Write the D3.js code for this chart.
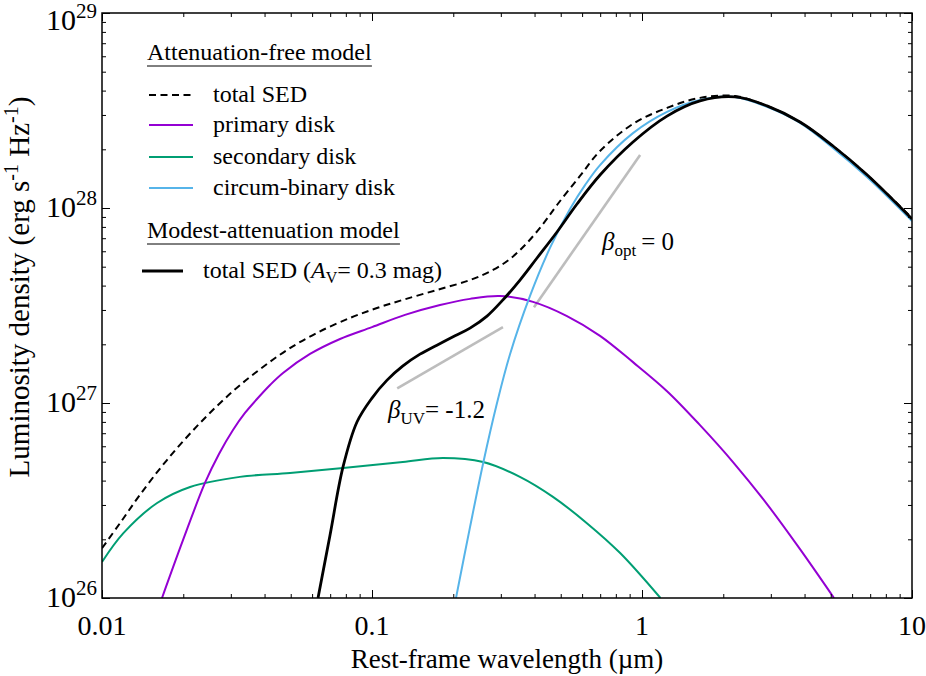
<!DOCTYPE html>
<html>
<head>
<meta charset="utf-8">
<script src="https://cdnjs.cloudflare.com/ajax/libs/d3/7.8.5/d3.min.js"></script>
<style>
  body { margin: 0; background: #fff; }
</style>
</head>
<body>
<script>
// SED of a binary disk system: attenuation-free components + attenuated total

var xTicks = [0.01, 0.1, 1, 10];
var xTickLabels = ["0.01", "0.1", "1", "10"];
var yTicks = [1e26, 1e27, 1e28, 1e29];
var yTickExps = ["26", "27", "28", "29"];

// attenuation-free total SED (dashed)
var totalLam = [0.01, 0.01166, 0.01382, 0.0174, 0.02307, 0.03056, 0.03848, 0.04844, 0.06256, 0.0829, 0.1043,
  0.1302, 0.174, 0.2307, 0.2806, 0.3245, 0.375, 0.4299, 0.4844, 0.5894, 0.6991, 0.9261, 1.238, 1.64, 2.21,
  2.904, 3.848, 5.098, 6.813, 10];
var totalL = [1.80e26, 2.42e26, 3.38e26, 5.10e26, 7.90e26, 1.15e27, 1.49e27, 1.87e27, 2.29e27, 2.73e27, 3.07e27,
  3.38e27, 3.80e27, 4.27e27, 4.81e27, 5.48e27, 6.62e27, 8.28e27, 1.036e28, 1.46e28, 1.96e28, 2.70e28, 3.26e28, 3.67e28, 3.75e28,
  3.34e28, 2.76e28, 2.08e28, 1.48e28, 8.88e27];

// primary disk
var primaryLam = [0.01668, 0.01995, 0.02406, 0.02712, 0.03056, 0.03385, 0.0375, 0.04192, 0.04682, 0.05894, 0.07613, 0.1,
  0.1325, 0.1786, 0.2307, 0.2979, 0.3948, 0.5275, 0.6991, 0.9261, 1.238, 1.64, 2.173, 2.904, 3.848, 5.142];
var primaryL = [1.0e26, 1.98e26, 3.89e26, 5.48e26, 7.27e26, 8.89e26, 1.048e27, 1.237e27, 1.425e27, 1.784e27, 2.13e27, 2.45e27,
  2.83e27, 3.18e27, 3.42e27, 3.54e27, 3.30e27, 2.79e27, 2.21e27, 1.62e27, 1.15e27, 7.7e26, 4.98e26, 3.03e26, 1.78e26, 1.0e26];

// secondary disk
var secondaryLam = [0.01, 0.012, 0.016, 0.0212, 0.0324, 0.0497, 0.0782, 0.13, 0.183, 0.258, 0.353, 0.468, 0.625, 0.83, 1.17];
var secondaryL = [1.53e26, 2.15e26, 3.07e26, 3.71e26, 4.18e26, 4.38e26, 4.64e26, 4.98e26, 5.22e26, 4.98e26, 4.18e26, 3.30e26, 2.42e26, 1.70e26, 1.0e26];

// circum-binary disk
var cbdLam = [0.2047, 0.2307, 0.2577, 0.2904, 0.3245, 0.3848, 0.4562, 0.5412, 0.6151, 0.6991, 0.9261, 1.238, 1.64,
  2.21, 2.904, 3.848, 5.098, 6.813, 10];
var cbdL = [1.0e26, 2.31e26, 4.87e26, 1.0e27, 1.78e27, 3.54e27, 6.24e27, 9.88e27, 1.31e28, 1.66e28, 2.42e28, 3.11e28, 3.58e28,
  3.71e28, 3.30e28, 2.73e28, 2.03e28, 1.44e28, 8.58e27];

// modest-attenuation total SED (A_V = 0.3 mag)
var attenLam = [0.0631, 0.0699, 0.0781, 0.08798, 0.1, 0.1137, 0.1302, 0.1506, 0.174, 0.203, 0.2307, 0.2667, 0.3056,
  0.3533, 0.4085, 0.4844, 0.5745, 0.6991, 0.9261, 1.238, 1.64, 2.21, 2.904, 3.848, 5.098, 6.813, 10];
var attenL = [1.0e26, 2.10e26, 4.70e26, 7.99e26, 1.06e27, 1.31e27, 1.55e27, 1.78e27, 1.98e27, 2.21e27, 2.42e27, 2.79e27, 3.38e27,
  4.27e27, 5.54e27, 7.53e27, 1.048e28, 1.476e28, 2.18e28, 2.96e28, 3.54e28, 3.71e28, 3.34e28, 2.76e28, 2.08e28, 1.48e28, 8.78e27];

// slope guides
var betaUvLam = [0.124, 0.3055];
var betaUvL = [1.19e27, 2.45e27];
var betaOptLam = [0.398, 0.984];
var betaOptL = [3.10e27, 1.87e28];

var FONT = "Liberation Serif";

var width = 926;
var height = 676;
var margin = {top: 13, right: 14, bottom: 78, left: 102};

var svg = d3.select("body")
  .append("svg")
  .attr("width", width)
  .attr("height", height)
  .attr("font-family", FONT);

var w = width - margin.left - margin.right;
var h = height - margin.top - margin.bottom;

var g = svg.append("g")
  .attr("transform", "translate(" + margin.left + "," + margin.top + ")");

var x = d3.scaleLog().domain([0.01, 10]).range([0, w]);
var y = d3.scaleLog().domain([1e26, 1e29]).range([h, 0]);

g.append("clipPath").attr("id", "clip")
  .append("rect").attr("width", w).attr("height", h);

function pairs(a, b) {
  return a.map(function(v, i) { return [v, b[i]]; });
}

var line = d3.line()
  .x(function(d) { return x(d[0]); })
  .y(function(d) { return y(d[1]); })
  .curve(d3.curveCatmullRom.alpha(0.5));

var straight = d3.line()
  .x(function(d) { return x(d[0]); })
  .y(function(d) { return y(d[1]); });

var curves = g.append("g").attr("clip-path", "url(#clip)");

// grey guide lines
[[betaUvLam, betaUvL], [betaOptLam, betaOptL]].forEach(function(b) {
  curves.append("path")
    .datum(pairs(b[0], b[1]))
    .attr("d", straight)
    .attr("fill", "none")
    .attr("stroke", "#bdbdbd")
    .attr("stroke-width", 2.6);
});

var series = [
  {lam: secondaryLam, L: secondaryL, col: "#009e73", w: 2, dash: null},
  {lam: primaryLam, L: primaryL, col: "#9400d3", w: 2, dash: null},
  {lam: cbdLam, L: cbdL, col: "#56b4e9", w: 2, dash: null},
  {lam: totalLam, L: totalL, col: "#000", w: 2, dash: "7,4.5"},
  {lam: attenLam, L: attenL, col: "#000", w: 2.8, dash: null}
];

series.forEach(function(s) {
  curves.append("path")
    .datum(pairs(s.lam, s.L))
    .attr("d", line)
    .attr("fill", "none")
    .attr("stroke", s.col)
    .attr("stroke-width", s.w)
    .attr("stroke-dasharray", s.dash)
    .attr("stroke-linejoin", "round");
});

// axes: inward ticks on all four sides
function isMajor(v) {
  var l = Math.log10(v);
  return Math.abs(l - Math.round(l)) < 1e-6;
}
var xMinor = x.ticks().filter(function(v) { return !isMajor(v); });
var yMinor = y.ticks().filter(function(v) { return !isMajor(v); });

function tickAxis(axis, vals, len, tr) {
  var a = g.append("g")
    .attr("transform", tr)
    .call(axis.tickValues(vals).tickSize(-len).tickFormat(""));
  a.select(".domain").remove();
  a.selectAll("line").attr("stroke", "#000").attr("stroke-width", 1);
}

[[xMinor, 4], [xTicks, 8]].forEach(function(t) {
  tickAxis(d3.axisBottom(x), t[0], t[1], "translate(0," + h + ")");
  tickAxis(d3.axisTop(x), t[0], t[1], "translate(0,0)");
});
[[yMinor, 4], [yTicks, 8]].forEach(function(t) {
  tickAxis(d3.axisLeft(y), t[0], t[1], "translate(0,0)");
  tickAxis(d3.axisRight(y), t[0], t[1], "translate(" + w + ",0)");
});

g.append("rect")
  .attr("width", w)
  .attr("height", h)
  .attr("fill", "none")
  .attr("stroke", "#000")
  .attr("stroke-width", 1.5);

// tick labels
xTicks.forEach(function(v, i) {
  g.append("text")
    .attr("x", x(v))
    .attr("y", h + 37)
    .attr("text-anchor", "middle")
    .style("font-size", "28px")
    .text(xTickLabels[i]);
});

yTicks.forEach(function(v, i) {
  var t = g.append("text")
    .attr("x", -5)
    .attr("y", Math.max(y(v) + 9, 17))
    .attr("text-anchor", "end")
    .style("font-size", "30px");
  t.append("tspan").text("10");
  t.append("tspan").attr("dy", -12).style("font-size", "21px").text(yTickExps[i]);
});

// axis titles
g.append("text")
  .attr("x", w / 2)
  .attr("y", h + 70)
  .attr("text-anchor", "middle")
  .style("font-size", "27px")
  .text("Rest-frame wavelength (\u00b5m)");

var yl = svg.append("text")
  .attr("transform", "translate(29,287) rotate(-90)")
  .attr("text-anchor", "middle")
  .style("font-size", "29px");
yl.append("tspan").text("Luminosity density (erg s");
yl.append("tspan").attr("dy", -11).style("font-size", "20px").text("-1");
yl.append("tspan").attr("dy", 11).text(" Hz");
yl.append("tspan").attr("dy", -11).style("font-size", "20px").text("-1");
yl.append("tspan").attr("dy", 11).text(")");

// slope annotations
var bu = g.append("text")
  .attr("x", x(0.1146))
  .attr("y", y(8.4e26))
  .style("font-size", "25px");
bu.append("tspan").style("font-style", "italic").text("\u03b2");
bu.append("tspan").attr("dy", 6).style("font-size", "17px").text("UV");
bu.append("tspan").attr("dy", -6).text("= -1.2");

var bo = g.append("text")
  .attr("x", x(0.711))
  .attr("y", y(6.1e27))
  .style("font-size", "25px");
bo.append("tspan").style("font-style", "italic").text("\u03b2");
bo.append("tspan").attr("dy", 6).style("font-size", "17px").text("opt");
bo.append("tspan").attr("dy", -6).text("\u2009= 0");

// legend
var leg = svg.append("g");

function title(txt, yb) {
  var t = leg.append("text")
    .attr("x", 147)
    .attr("y", yb)
    .attr("font-family", FONT)
    .style("font-size", "24px")
    .text(txt);
  var bb = t.node().getBBox();
  leg.append("line")
    .attr("x1", 147).attr("x2", 147 + bb.width)
    .attr("y1", yb + 6).attr("y2", yb + 6)
    .attr("stroke", "#000").attr("stroke-width", 1);
}

title("Attenuation-free model", 60);
title("Modest-attenuation model", 238);

var entries = [
  {label: "total SED", col: "#000", w: 2, dash: "7,4.5", y: 95},
  {label: "primary disk", col: "#9400d3", w: 2, dash: null, y: 125},
  {label: "secondary disk", col: "#009e73", w: 2, dash: null, y: 157},
  {label: "circum-binary disk", col: "#56b4e9", w: 2, dash: null, y: 188}
];

entries.forEach(function(e) {
  leg.append("line")
    .attr("x1", 149).attr("x2", 193)
    .attr("y1", e.y).attr("y2", e.y)
    .attr("stroke", e.col)
    .attr("stroke-width", e.w)
    .attr("stroke-dasharray", e.dash);
  leg.append("text")
    .attr("x", 213)
    .attr("y", e.y + 7)
    .style("font-size", "24px")
    .text(e.label);
});

leg.append("line")
  .attr("x1", 142).attr("x2", 183)
  .attr("y1", 271).attr("y2", 271)
  .attr("stroke", "#000")
  .attr("stroke-width", 2.8);

var at = leg.append("text")
  .attr("x", 203)
  .attr("y", 278)
  .style("font-size", "24px");
at.append("tspan").text("total SED (");
at.append("tspan").style("font-style", "italic").text("A");
at.append("tspan").attr("dy", 5).style("font-size", "16px").text("V");
at.append("tspan").attr("dy", -5).text("= 0.3 mag)");

// make sure every label uses the serif face
svg.selectAll("text").attr("font-family", FONT);
</script>
</body>
</html>
